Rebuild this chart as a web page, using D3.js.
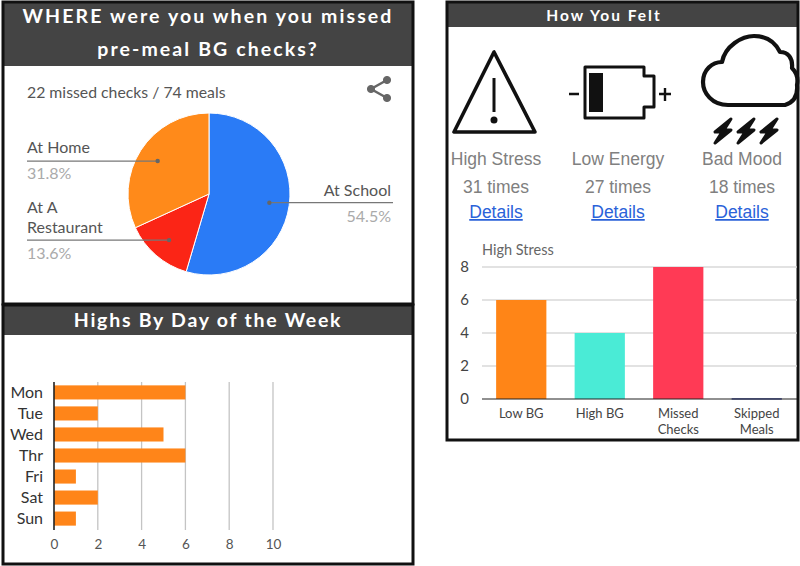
<!DOCTYPE html>
<html lang="en">
    <head>
        <meta charset="UTF-8" />
        <title>Missed checks and highs</title>
        <style>
          body { margin: 0; background: #fff; }
          svg { display: block; }
          text { font-family: Lato, "Noto Sans", sans-serif; }
          .head { font-weight: 700; fill: #fff; text-anchor: middle; }
          .plain { font-family: "Liberation Sans", sans-serif; fill: #808080; text-anchor: middle; }
          .link { font-family: "Liberation Sans", sans-serif; fill: #2a62d9; text-anchor: middle; text-decoration: underline; }
          .axis path, .axis line { display: none; }
        </style>
    </head>
    <body>
        <script src="https://cdn.jsdelivr.net/npm/d3@7"></script>
        <div id="app"></div>
        <script>
        //Data
          const places = ["At School", "At A Restaurant", "At Home"];
          const placeValues = [54.5, 13.6, 31.8];
          const placeColors = ["#2a7bf6", "#fb2516", "#ff8a1a"];

          const days = ["Mon", "Tue", "Wed", "Thr", "Fri", "Sat", "Sun"];
          const highs = [6, 2, 5, 6, 1, 2, 1];
          const highTicks = [0, 2, 4, 6, 8, 10];

          const feelings = ["High Stress", "Low Energy", "Bad Mood"];
          const feelingTimes = [31, 27, 18];

          const causes = ["Low BG", "High BG", "Missed Checks", "Skipped Meals"];
          const causeLines = [["Low BG"], ["High BG"], ["Missed", "Checks"], ["Skipped", "Meals"]];
          const stress = [6, 4, 8, 0.05];
          const causeColors = ["#ff8517", "#4aebd6", "#ff3a55", "#3f4fa0"];
          const stressTicks = [0, 2, 4, 6, 8];

        //Canvas
          const svg = d3.select("#app").append("svg")
            .attr("width", 800)
            .attr("height", 566);

        //Panels
          const panel = (x, y, w, h, head) => {
            svg.append("rect").attr("x", x).attr("y", y).attr("width", w).attr("height", head)
              .attr("fill", "#444");
            svg.append("rect").attr("x", x).attr("y", y).attr("width", w).attr("height", h)
              .attr("fill", "none").attr("stroke", "#111").attr("stroke-width", 3);
          };
          panel(3, 2, 410, 302, 64);
          panel(3, 305, 410, 259, 30);
          panel(447, 2, 351, 438, 25);

          const heading = (txt, x, y, size, spacing) => svg.append("text")
            .attr("class", "head").attr("x", x).attr("y", y)
            .style("font-size", size + "px").style("letter-spacing", spacing + "px")
            .text(txt);
          heading("WHERE were you when you missed", 208, 23, 19.5, 2.1);
          heading("pre-meal BG checks?", 208, 56, 19.5, 2.1);
          heading("Highs By Day of the Week", 208, 327, 19.5, 1.75);
          heading("How You Felt", 604, 21, 15.5, 2);

        //Pie
          svg.append("text").attr("x", 27).attr("y", 98)
            .style("font-size", "15.8px").attr("fill", "#555")
            .text("22 missed checks / 74 meals");

          const share = svg.append("g").attr("fill", "#666").attr("stroke", "#666");
          share.append("path").attr("d", "M387 80L371 89L387 98").attr("fill", "none").attr("stroke-width", 2.5);
          [[387, 80], [371, 89], [387, 98]].forEach(p => {
            share.append("circle").attr("cx", p[0]).attr("cy", p[1]).attr("r", 3.6);
          });

          const pieG = svg.append("g").attr("transform", "translate(209,194)");
          const pie = d3.pie().sort(null)(placeValues);
          const arc = d3.arc().innerRadius(0).outerRadius(81);
          const dotArc = d3.arc().innerRadius(61).outerRadius(61);
          pieG.selectAll("path.slice")
            .data(pie)
            .enter()
            .append("path")
            .attr("class", "slice")
            .attr("d", arc)
            .attr("fill", (d, i) => placeColors[i])
            .attr("stroke", "#fff")
            .attr("stroke-width", 1);

        //Pie labels
          const labelRows = [
            { lines: ["At School"], anchor: "end", x: 391, lineEnd: 393, first: 196, pct: 222 },
            { lines: ["At A", "Restaurant"], anchor: "start", x: 27, lineEnd: 27, first: 213, pct: 259 },
            { lines: ["At Home"], anchor: "start", x: 27, lineEnd: 27, first: 153, pct: 179 }
          ];
          labelRows.forEach((row, i) => {
            const c = dotArc.centroid(pie[i]);
            const dotX = 209 + c[0];
            const dotY = 194 + c[1];
            svg.append("line").attr("x1", dotX).attr("x2", row.lineEnd).attr("y1", dotY).attr("y2", dotY)
              .attr("stroke", "#777").attr("stroke-width", 1.2);
            svg.append("circle").attr("cx", dotX).attr("cy", dotY).attr("r", 2.2).attr("fill", "#666");
            row.lines.forEach((t, j) => {
              svg.append("text").attr("x", row.x).attr("y", row.first + j * 20)
                .attr("text-anchor", row.anchor).style("font-size", "16px").attr("fill", "#555").text(t);
            });
            svg.append("text").attr("x", row.x).attr("y", row.pct)
              .attr("text-anchor", row.anchor).style("font-size", "16px").attr("fill", "#aaa")
              .text(placeValues[i].toFixed(1) + "%");
          });

        //Highs by day
          const xHigh = d3.scaleLinear().domain([0, 10]).range([54, 273]);
          const yDay = d3.scaleBand().domain(days).range([382, 529]).paddingInner(0.33).paddingOuter(0.16);

          svg.selectAll("line.gridH")
            .data(highTicks.slice(1))
            .enter()
            .append("line")
            .attr("class", "gridH")
            .attr("x1", d => xHigh(d)).attr("x2", d => xHigh(d))
            .attr("y1", 382).attr("y2", 530)
            .attr("stroke", "#c4c4c4").attr("stroke-width", 1.3);

          svg.selectAll("rect.high")
            .data(highs)
            .enter()
            .append("rect")
            .attr("class", "high")
            .attr("x", xHigh(0))
            .attr("y", (d, i) => yDay(days[i]))
            .attr("width", d => xHigh(d) - xHigh(0))
            .attr("height", yDay.bandwidth())
            .attr("fill", "#ff8519");

          svg.append("line").attr("x1", 54).attr("x2", 54).attr("y1", 382).attr("y2", 530)
            .attr("stroke", "#222").attr("stroke-width", 1.6);

          const axisDay = svg.append("g").attr("class", "axis")
            .attr("transform", "translate(53,0)")
            .call(d3.axisLeft(yDay).tickSize(0).tickPadding(10));
          axisDay.selectAll("text").style("font-size", "16px").attr("fill", "#333").attr("dy", "0.36em");

          const axisHigh = svg.append("g").attr("class", "axis")
            .attr("transform", "translate(0,530)")
            .call(d3.axisBottom(xHigh).tickValues(highTicks).tickSize(0).tickPadding(9));
          axisHigh.selectAll("text").style("font-size", "13.5px").attr("fill", "#555");

        //Icons
          const icons = svg.append("g").attr("fill", "none").attr("stroke", "#111").attr("stroke-linejoin", "round");
          icons.append("path").attr("d", "M494 52L454 132H535Z").attr("stroke-width", 3.6);
          icons.append("path").attr("d", "M494 78V112").attr("stroke-width", 3);
          icons.append("circle").attr("cx", 494).attr("cy", 120).attr("r", 3.5).attr("fill", "#111").attr("stroke", "none");

          icons.append("path").attr("d", "M585 67H644V76H654V107H644V118H585Z").attr("stroke-width", 3);
          icons.append("rect").attr("x", 589).attr("y", 73).attr("width", 14).attr("height", 39).attr("fill", "#111").attr("stroke", "none");
          icons.append("path").attr("d", "M569 94H579M659 94H671M665 88V101").attr("stroke-width", 2.4);

          icons.append("path")
            .attr("d", "M728 105C712 105 703 93 703 82C703 70 712 62 722 62C725 46 742 36 754 36C768 36 776 44 780 52C788 52 793 58 792 68C797 73 798 80 797 85C798 95 795 102 785 105Z")
            .attr("stroke-width", 4.2);
          [723, 746, 769].forEach(x => {
            icons.append("path")
              .attr("transform", "translate(" + x + ",131)")
              .attr("d", "M8 -12L-8 1H-1L-8 12L8 -1H1Z")
              .attr("fill", "#111").attr("stroke-width", 3);
          });

        //Feelings
          const feelX = [496, 618, 742];
          feelings.forEach((f, i) => {
            svg.append("text").attr("class", "plain").attr("x", feelX[i]).attr("y", 165)
              .style("font-size", "17.5px").text(f);
            svg.append("text").attr("class", "plain").attr("x", feelX[i]).attr("y", 193)
              .style("font-size", "17.5px").text(feelingTimes[i] + " times");
            svg.append("text").attr("class", "link").attr("x", feelX[i]).attr("y", 218)
              .style("font-size", "17.5px").text("Details");
          });

        //High Stress bars
          svg.append("text").attr("x", 482).attr("y", 255)
            .style("font-size", "14.5px").attr("fill", "#666").text("High Stress");

          const xCause = d3.scaleBand().domain(causes).range([482, 796]).paddingInner(0.36).paddingOuter(0.18);
          const yStress = d3.scaleLinear().domain([0, 8]).range([399, 267]);

          svg.selectAll("line.gridS")
            .data(stressTicks.slice(1))
            .enter()
            .append("line")
            .attr("class", "gridS")
            .attr("x1", 482).attr("x2", 797)
            .attr("y1", d => yStress(d)).attr("y2", d => yStress(d))
            .attr("stroke", "#d8d8d8").attr("stroke-width", 1.5);

          svg.selectAll("rect.cause")
            .data(stress)
            .enter()
            .append("rect")
            .attr("class", "cause")
            .attr("x", (d, i) => xCause(causes[i]))
            .attr("y", d => yStress(d))
            .attr("width", xCause.bandwidth())
            .attr("height", d => Math.max(yStress(0) - yStress(d), 1.5))
            .attr("fill", (d, i) => causeColors[i]);

          svg.append("line").attr("x1", 482).attr("x2", 797).attr("y1", 399).attr("y2", 399)
            .attr("stroke", "#222").attr("stroke-width", 1.2);

          const axisStress = svg.append("g").attr("class", "axis")
            .attr("transform", "translate(482,0)")
            .call(d3.axisLeft(yStress).tickValues(stressTicks).tickSize(0).tickPadding(13));
          axisStress.selectAll("text").style("font-size", "15px").attr("fill", "#444");

          causeLines.forEach((lines, i) => {
            lines.forEach((w, j) => {
              svg.append("text").attr("x", xCause(causes[i]) + xCause.bandwidth() / 2).attr("y", 418 + j * 16)
                .attr("text-anchor", "middle").style("font-size", "13px").attr("fill", "#444").text(w);
            });
          });
        </script>
    </body>
</html>
